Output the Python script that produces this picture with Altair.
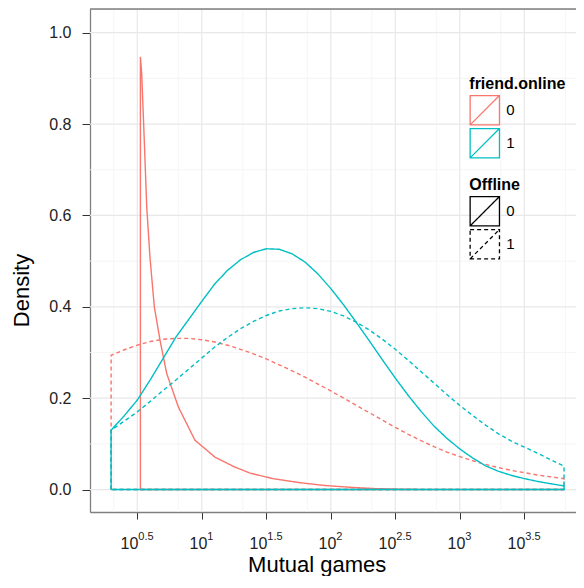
import altair as alt
import pandas as pd

# ---- data (x = log10(mutual games), y = density) ----
red_solid_L = [0.524, 0.534, 0.554, 0.573, 0.598, 0.632, 0.676, 0.728, 0.818, 0.947,
               1.102, 1.25, 1.374, 1.55, 1.762, 1.95, 2.149, 2.35, 2.537, 2.8, 3.808]
red_solid_v = [0.947, 0.911, 0.765, 0.619, 0.509, 0.400, 0.327, 0.254, 0.181, 0.108,
               0.071, 0.050, 0.036, 0.024, 0.015, 0.009, 0.005, 0.002, 0.001, 0.0, 0.0]

grid_L = [0.297, 0.4, 0.5, 0.6, 0.7, 0.8, 0.9, 1.0, 1.1, 1.2, 1.3, 1.4, 1.5, 1.6, 1.7,
          1.8, 1.9, 2.0, 2.1, 2.2, 2.3, 2.4, 2.5, 2.6, 2.7, 2.8, 2.9, 3.0, 3.1, 3.2,
          3.3, 3.4, 3.5, 3.6, 3.7, 3.808]
red_dashed_v = [0.294, 0.306, 0.316, 0.324, 0.329, 0.331, 0.331, 0.328, 0.323, 0.316,
                0.307, 0.297, 0.286, 0.273, 0.260, 0.246, 0.231, 0.216, 0.200, 0.184,
                0.168, 0.152, 0.136, 0.121, 0.107, 0.094, 0.082, 0.072, 0.063, 0.055,
                0.048, 0.042, 0.037, 0.032, 0.028, 0.024]
teal_solid_v = [0.130, 0.162, 0.196, 0.240, 0.287, 0.334, 0.373, 0.412, 0.450, 0.480,
                0.503, 0.519, 0.527, 0.526, 0.516, 0.498, 0.472, 0.440, 0.404, 0.365,
                0.325, 0.284, 0.244, 0.206, 0.171, 0.139, 0.112, 0.089, 0.069, 0.052,
                0.040, 0.031, 0.024, 0.018, 0.013, 0.008]
teal_dashed_v = [0.130, 0.150, 0.170, 0.193, 0.217, 0.240, 0.264, 0.288, 0.312, 0.333,
                 0.352, 0.368, 0.381, 0.391, 0.396, 0.398, 0.396, 0.390, 0.380, 0.366,
                 0.349, 0.329, 0.307, 0.283, 0.258, 0.233, 0.208, 0.184, 0.162, 0.141,
                 0.122, 0.106, 0.093, 0.080, 0.066, 0.051]

x_major = [0.5, 1.0, 1.5, 2.0, 2.5, 3.0, 3.5]
x_exp_labels = ["0.5", "1", "1.5", "2", "2.5", "3", "3.5"]
x_minor = [0.318, 0.818, 1.318, 1.818, 2.318, 2.818, 3.318, 3.818]
y_major = [0.0, 0.2, 0.4, 0.6, 0.8, 1.0]
y_minor = [0.1, 0.3, 0.5, 0.7, 0.9]

X_DOMAIN = [0.1333, 3.9008]
Y_DOMAIN = [-0.0491, 1.0519]
W, H = 486, 503
FONT = "Liberation Sans"


def polygon(L, v, online, offline):
    pts = [(L[0], 0.0)] + list(zip(L, v)) + [(L[-1], 0.0), (L[0], 0.0)]
    return [{"L": a, "density": b, "online": online, "offline": offline,
             "series": online + "-" + offline, "i": k} for k, (a, b) in enumerate(pts)]


rows = (polygon(red_solid_L, red_solid_v, "0", "0")
        + polygon(grid_L, red_dashed_v, "0", "1")
        + polygon(grid_L, teal_solid_v, "1", "0")
        + polygon(grid_L, teal_dashed_v, "1", "1"))
curves = pd.DataFrame(rows)

xs = alt.Scale(domain=X_DOMAIN, nice=False, zero=False)
ys = alt.Scale(domain=Y_DOMAIN, nice=False, zero=False)

x_axis = alt.Axis(values=x_major, labels=False, grid=False, ticks=True, orient="bottom",
                  tickSize=7, tickColor="#333333", tickWidth=1,
                  domainColor="#7F7F7F", domainWidth=1.3,
                  title="Mutual games", titleFontSize=22,
                  titleFontWeight="normal", titleColor="black",
                  titleFont=FONT, titleX=226.7, titleY=59.5,
                  titleBaseline="alphabetic", titleAlign="center")
y_axis = alt.Axis(values=y_major, format=".1f", grid=False, orient="left",
                  tickSize=8, tickColor="#333333", tickWidth=1,
                  domainColor="#7F7F7F", domainWidth=1.3,
                  labelFontSize=16, labelColor="#222222", labelFont=FONT,
                  labelPadding=11,
                  title="Density", titleFontSize=22,
                  titleFontWeight="normal", titleColor="black",
                  titleFont=FONT, titleX=-62, titleY=281, titleAngle=270,
                  titleBaseline="alphabetic", titleAlign="center")


def X(field):
    return alt.X(field, scale=xs, axis=x_axis)


def Y(field):
    return alt.Y(field, scale=ys, axis=y_axis)


minor_x = alt.Chart(pd.DataFrame({"gx": x_minor})).mark_rule(
    color="#F4F4F4", strokeWidth=0.9).encode(x=X("gx:Q"))
minor_y = alt.Chart(pd.DataFrame({"gy": y_minor})).mark_rule(
    color="#F4F4F4", strokeWidth=0.9).encode(y=Y("gy:Q"))
major_x = alt.Chart(pd.DataFrame({"gx": x_major})).mark_rule(
    color="#E8E8E8", strokeWidth=1.2).encode(x=X("gx:Q"))
major_y = alt.Chart(pd.DataFrame({"gy": y_major})).mark_rule(
    color="#E8E8E8", strokeWidth=1.2).encode(y=Y("gy:Q"))
top_border = alt.Chart(pd.DataFrame({"gy": [Y_DOMAIN[1]]})).mark_rule(
    color="#7F7F7F", strokeWidth=1.3).encode(y=Y("gy:Q"))

SYMBOL = "M-1,-1H1V1H-1Z M-1,1L1,-1"
legend_common = dict(orient="none", legendX=379.3,
                     symbolType=SYMBOL, symbolSize=860, symbolStrokeWidth=1.3,
                     symbolFillColor="transparent",
                     labelFontSize=15, labelFont=FONT, labelColor="black", labelOffset=6,
                     titleFontSize=16, titleFont=FONT, titleFontWeight="bold",
                     titleColor="black", titlePadding=3, rowPadding=-9, padding=0)

lines = alt.Chart(curves).mark_line(strokeWidth=1.4).encode(
    x=X("L:Q"),
    y=Y("density:Q"),
    color=alt.Color("online:N",
                    scale=alt.Scale(range=["#F8766D", "#00BFC4"]),
                    legend=alt.Legend(title="friend.online", legendY=66.7,
                                      **legend_common)),
    strokeDash=alt.StrokeDash("offline:N",
                              scale=alt.Scale(range=[[1, 0], [4, 3]]),
                              legend=alt.Legend(title="Offline", legendY=167.7,
                                                symbolStrokeColor="black",
                                                **legend_common)),
    detail="series:N",
    order="i:Q",
)

xlab = pd.DataFrame({"L": x_major, "base": ["10"] * len(x_major), "exp": x_exp_labels,
                     "half": [("." in e) for e in x_exp_labels]})
lab_base = alt.Chart(xlab)


def base_layer(half, dx):
    return lab_base.transform_filter(alt.datum.half == half).mark_text(
        align="right", baseline="alphabetic", fontSize=16, font=FONT,
        color="#222222", dx=dx).encode(
        x=X("L:Q"), y=alt.value(H + 36.6), text="base:N")


def exp_layer(half, dx):
    return lab_base.transform_filter(alt.datum.half == half).mark_text(
        align="left", baseline="alphabetic", fontSize=11, font=FONT,
        color="#222222", dx=dx).encode(
        x=X("L:Q"), y=alt.value(H + 27.6), text="exp:N")


chart = alt.layer(
    minor_x, minor_y, major_x, major_y, top_border, lines,
    base_layer(True, 1), exp_layer(True, 1),
    base_layer(False, 5.5), exp_layer(False, 5.5),
).properties(
    width=W, height=H,
    autosize=alt.AutoSizeParams(type="none"),
    padding={"left": 82, "top": 1, "right": 0, "bottom": 64},
).configure_view(strokeWidth=0).configure(font=FONT)

chart.save("out.html", embed_options={"renderer": "svg", "actions": False})
